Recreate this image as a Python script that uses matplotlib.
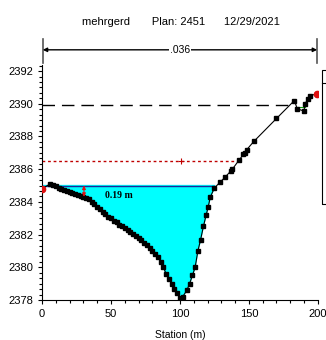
import matplotlib.pyplot as plt
from matplotlib.ticker import MultipleLocator
from matplotlib.patches import Rectangle

plt.rcParams['font.family'] = ['Liberation Sans', 'DejaVu Sans']

# perfil del terreno (estacion, elevacion)
estacion = [0, 5.8, 8, 10, 12, 14, 16, 18, 20, 22, 24, 26, 28, 30, 32, 34, 36, 38,
            40, 42, 44, 46, 48, 50, 52, 54, 56, 58, 60, 62, 64, 66, 68, 70, 72,
            74, 76, 78, 80, 82, 84, 86, 88, 90, 92, 94, 96, 98, 100, 101, 102,
            105, 107, 109, 111, 113, 115, 117, 119, 120.5, 122, 125, 129, 132.6,
            137, 138, 142.8, 146, 147, 148.5, 153.6, 170, 183, 185, 190, 190.6,
            193, 194, 199.5]
elevacion = [2384.8, 2385.1, 2385.05, 2384.95, 2384.85, 2384.8, 2384.72, 2384.65,
             2384.6, 2384.55, 2384.5, 2384.45, 2384.38, 2384.3, 2384.25, 2384.15,
             2384.0, 2383.85, 2383.7, 2383.55, 2383.4, 2383.25, 2383.1, 2383.0,
             2382.85, 2382.75, 2382.6, 2382.5, 2382.4, 2382.3, 2382.15, 2382.05,
             2381.9, 2381.8, 2381.65, 2381.5, 2381.35, 2381.2, 2381.0, 2380.8,
             2380.6, 2380.35, 2380.0, 2379.6, 2379.3, 2379.0, 2378.7, 2378.4,
             2378.1, 2378.0, 2378.2, 2378.6, 2379.0, 2379.5, 2380.0, 2381.0,
             2381.7, 2382.5, 2383.2, 2383.7, 2384.3, 2384.85, 2385.2, 2385.5,
             2385.9, 2386.0, 2386.55, 2386.9, 2387.0, 2387.2, 2387.7, 2389.1,
             2390.2, 2389.7, 2389.55, 2390.0, 2390.3, 2390.5, 2390.6]

bancos_x = [0, 199.5]
bancos_y = [2384.8, 2390.6]

ws = 2385.0        # nivel de agua
ws_fin = 125
eg = 2386.5        # linea de energia
eg_fin = 142.8
crit = 2389.95     # linea discontinua
crit_fin = 183
tirante = 0.19
manning = ".036"

fig = plt.figure(figsize=(3.26, 3.40), dpi=100)
ax = fig.add_axes([0.129, 0.1176, 0.846, 0.6926])

# relleno del agua
xs = [x for x in estacion if x <= ws_fin]
ys = [y for x, y in zip(estacion, elevacion) if x <= ws_fin]
ax.fill_between(xs, ys, ws, where=[y <= ws for y in ys], interpolate=True,
                color="#00ffff", zorder=1)
ax.plot([0, ws_fin], [ws, ws], color="#1a2a9a", lw=1, zorder=2)

ax.plot([0, eg_fin], [eg, eg], color="#c00000", lw=1, ls=(0, (2, 2)), zorder=2)
ax.plot([101], [eg], marker="+", color="#c00000", ms=4, mew=0.8, zorder=2)
ax.plot([0, crit_fin], [crit, crit], color="black", lw=1, ls=(0, (9, 5)), zorder=2)
ax.plot([184, 191], [2389.8, 2389.8], color="#10a010", lw=0.8, zorder=2)

ax.plot(estacion, elevacion, color="black", lw=0.8, marker="s", ms=3.3,
        mfc="black", mec="black", zorder=3)
ax.plot(bancos_x, bancos_y, ls="none", marker="o", ms=4.5, color="#e01010", zorder=4)

# flecha del tirante
ax.annotate("", xy=(30.4, ws - tirante - 0.5), xytext=(30.4, ws),
            arrowprops=dict(arrowstyle="<|-|>", color="#e01010", lw=0.8,
                            mutation_scale=5, shrinkA=0, shrinkB=0), zorder=5)
ax.text(45.5, 2384.42, "%.2f m" % tirante, fontsize=7, fontweight="bold",
        family="Liberation Serif", va="center", ha="left", zorder=5)

# indicador de Manning
ax.annotate("", xy=(0.5, 2393.3), xytext=(199.5, 2393.3),
            arrowprops=dict(arrowstyle="<|-|>", color="black", lw=1,
                            mutation_scale=6, shrinkA=0, shrinkB=0),
            annotation_clip=False)
ax.plot([0.5, 0.5], [2392.5, 2393.95], color="#555555", lw=1.2, clip_on=False)
ax.plot([199.5, 199.5], [2392.5, 2393.95], color="#555555", lw=1.2, clip_on=False)
ax.text(100, 2393.3, manning, fontsize=7.5, ha="center", va="center",
        bbox=dict(fc="white", ec="none", pad=0.5), clip_on=False)

ax.set_xlim(0, 200)
ax.set_ylim(2378, 2392.4)
ax.set_xticks([0, 50, 100, 150, 200])
ax.set_yticks([2378, 2380, 2382, 2384, 2386, 2388, 2390, 2392])
ax.xaxis.set_minor_locator(MultipleLocator(10))
ax.yaxis.set_minor_locator(MultipleLocator(1 / 3))
ax.tick_params(axis="both", which="major", labelsize=8, length=3, width=0.8)
ax.tick_params(axis="both", which="minor", length=2, width=0.8)
ax.spines["top"].set_visible(False)
ax.spines["right"].set_visible(False)
ax.set_xlabel("Station (m)", fontsize=7.5, labelpad=8)

fig.text(0.555, 0.935, "mehrgerd       Plan: 2451      12/29/2021",
         fontsize=8, ha="center", va="center")

# recuadro de leyenda cortado
fig.patches.append(Rectangle((322 / 326, 1 - 204 / 340), 0.2, 134 / 340,
                             transform=fig.transFigure, fill=False,
                             ec="black", lw=0.8))
fig.lines.append(plt.Line2D([322 / 326, 1], [1 - 83 / 340, 1 - 83 / 340],
                            transform=fig.transFigure, color="black", lw=0.8))

fig.savefig("out.png", dpi=100)
